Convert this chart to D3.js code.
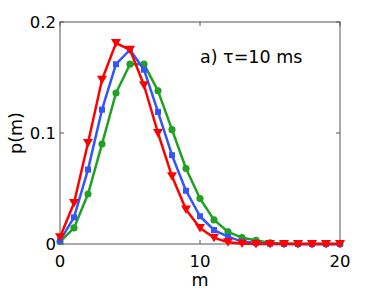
<!DOCTYPE html>
<html>
<head>
<meta charset="utf-8">
<script src="https://cdn.jsdelivr.net/npm/d3@7"></script>
<style>
  body { margin: 0; background: #fff; }
  svg text { font-family: "DejaVu Sans", sans-serif; fill: #000; }
</style>
</head>
<body>
<div id="chart"></div>
<script>
// values, m = 0..20
const mValues = d3.range(0, 21)
const redSeries = [0.006, 0.037, 0.091, 0.148, 0.181, 0.175, 0.143, 0.100, 0.061, 0.031, 0.0145, 0.0057, 0.0015, 0.0004, 0, 0, 0, 0, 0, 0, 0]
const blueSeries = [0.003, 0.024, 0.067, 0.121, 0.162, 0.175, 0.157, 0.119, 0.080, 0.048, 0.025, 0.0126, 0.0066, 0.0022, 0.001, 0.0003, 0, 0, 0, 0, 0]
const greenSeries = [0.002, 0.0145, 0.045, 0.090, 0.136, 0.162, 0.162, 0.138, 0.103, 0.068, 0.041, 0.0217, 0.011, 0.0057, 0.0034, 0.001, 0.0004, 0, 0, 0, 0]
const xTicks = [0, 10, 20]
const yTicks = [0, 0.1, 0.2]
const yTickLabels = ['0', '0.1', '0.2']

const width = 374
const height = 291
const margin = { left: 60, right: 34, top: 22, bottom: 47 }

const svg = d3.select('#chart')
  .append('svg')
  .attr('width', width)
  .attr('height', height)

const x = d3.scaleLinear().domain([0, 20]).range([margin.left, width - margin.right])
const y = d3.scaleLinear().domain([0, 0.2]).range([height - margin.bottom, margin.top])

const axisColor = '#555'
const tickLen = 4

// frame
svg.append('rect')
  .attr('x', x(0))
  .attr('y', y(0.2))
  .attr('width', x(20) - x(0))
  .attr('height', y(0) - y(0.2))
  .attr('fill', 'none')
  .attr('stroke', axisColor)
  .attr('stroke-width', 1)

// ticks (inward, on all four sides)
const ticks = svg.append('g').attr('stroke', axisColor).attr('stroke-width', 1)
xTicks.forEach(t => {
  ticks.append('line').attr('x1', x(t)).attr('x2', x(t)).attr('y1', y(0)).attr('y2', y(0) - tickLen)
  ticks.append('line').attr('x1', x(t)).attr('x2', x(t)).attr('y1', y(0.2)).attr('y2', y(0.2) + tickLen)
})
yTicks.forEach(t => {
  ticks.append('line').attr('x1', x(0)).attr('x2', x(0) + tickLen).attr('y1', y(t)).attr('y2', y(t))
  ticks.append('line').attr('x1', x(20)).attr('x2', x(20) - tickLen).attr('y1', y(t)).attr('y2', y(t))
})

// tick labels
svg.append('g').selectAll('text')
  .data(xTicks)
  .join('text')
  .attr('x', d => x(d))
  .attr('y', y(0) + 23)
  .attr('text-anchor', 'middle')
  .attr('font-size', 16.5)
  .text(d => d)

svg.append('g').selectAll('text')
  .data(yTicks)
  .join('text')
  .attr('x', x(0) - 4)
  .attr('y', d => y(d) + 6)
  .attr('text-anchor', 'end')
  .attr('font-size', 16.5)
  .text((d, i) => yTickLabels[i])

// axis titles
svg.append('text')
  .attr('x', x(10))
  .attr('y', 286)
  .attr('text-anchor', 'middle')
  .attr('font-size', 17.5)
  .text('m')

svg.append('text')
  .attr('transform', `translate(22, ${(y(0) + y(0.2)) / 2}) rotate(-90)`)
  .attr('text-anchor', 'middle')
  .attr('font-size', 17.5)
  .text('p(m)')

svg.append('text')
  .attr('x', 200)
  .attr('y', 63)
  .attr('font-size', 17.5)
  .text('a) τ=10 ms')

// series
const line = d3.line()
  .x((d, i) => x(mValues[i]))
  .y(d => y(d))

const series = [
  { values: greenSeries, color: '#22a022', marker: 'circle' },
  { values: blueSeries, color: '#3355ff', marker: 'square' },
  { values: redSeries, color: '#ff0000', marker: 'triangle' }
]

series.forEach(s => {
  const g = svg.append('g')
  g.append('path')
    .datum(s.values)
    .attr('d', line)
    .attr('fill', 'none')
    .attr('stroke', s.color)
    .attr('stroke-width', 2.5)
    .attr('stroke-linejoin', 'round')

  const pts = g.selectAll('.pt')
    .data(s.values)
    .join('path')
    .attr('class', 'pt')
    .attr('fill', s.color)
    .attr('transform', (d, i) => `translate(${x(mValues[i])}, ${y(d)})`)

  if (s.marker === 'circle') {
    pts.attr('d', d3.symbol(d3.symbolCircle, 40))
  } else if (s.marker === 'square') {
    pts.attr('d', 'M-3,-3H3V3H-3Z')
  } else {
    pts.attr('d', 'M-5,-4L5,-4L0,4.5Z')
  }
})
</script>
</body>
</html>
